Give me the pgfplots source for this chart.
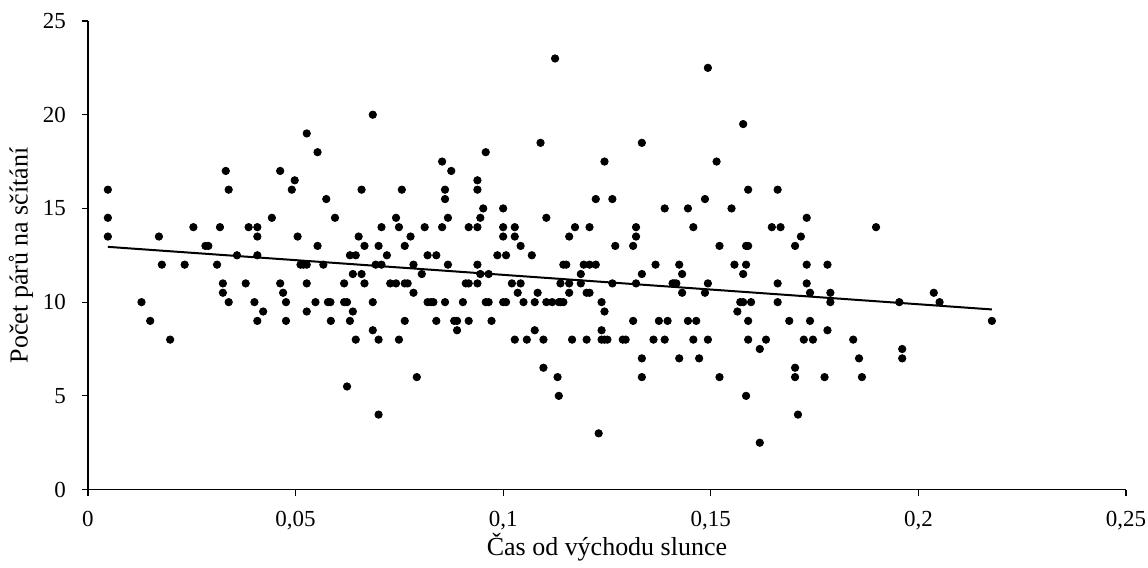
\documentclass[border=0pt]{standalone}
\usepackage{fontspec}
\setmainfont{Liberation Serif}
\usepackage{pgfplots}
\pgfplotsset{compat=1.18}
\usepackage{pgfplotstable}

\pgfplotstableread{
x y
0.0048 16
0.0048 14.5
0.0048 13.5
0.0129 10
0.0150 9
0.0171 13.5
0.0178 12
0.0198 8
0.0233 12
0.0254 14
0.0283 13
0.0290 13
0.0311 12
0.0318 14
0.0325 11
0.0325 10.5
0.0332 17
0.0339 16
0.0339 10
0.0359 12.5
0.0380 11
0.0387 14
0.0401 10
0.0408 14
0.0408 13.5
0.0408 12.5
0.0408 9
0.0422 9.5
0.0443 14.5
0.0463 17
0.0463 11
0.0470 10.5
0.0477 10
0.0477 9
0.0491 16
0.0498 16.5
0.0505 13.5
0.0512 12
0.0519 12
0.0527 19
0.0527 12
0.0527 11
0.0527 9.5
0.0548 10
0.0553 18
0.0553 13
0.0567 12
0.0574 15.5
0.0578 10
0.0584 10
0.0585 9
0.0595 14.5
0.0617 11
0.0617 10
0.0624 5.5
0.0624 10
0.0631 12.5
0.0631 9
0.0638 11.5
0.0638 9.5
0.0645 12.5
0.0645 8
0.0652 13.5
0.0659 16
0.0659 11.5
0.0666 13
0.0666 11
0.0686 20
0.0686 10
0.0686 8.5
0.0693 12
0.0700 13
0.0700 8
0.0700 4
0.0707 14
0.0707 12
0.0720 12.5
0.0728 11
0.0742 14.5
0.0742 11
0.0749 14
0.0749 8
0.0756 16
0.0763 13
0.0763 11
0.0763 9
0.0770 11
0.0777 13.5
0.0784 12
0.0784 10.5
0.0792 6
0.0804 11.5
0.0811 14
0.0818 12.5
0.0818 10
0.0826 10
0.0832 10
0.0839 12.5
0.0839 9
0.0853 17.5
0.0853 14
0.0860 16
0.0860 15.5
0.0860 10
0.0867 14.5
0.0867 12
0.0875 17
0.0882 9
0.0889 9
0.0889 8.5
0.0903 10
0.0910 11
0.0917 14
0.0917 11
0.0917 9
0.0938 16.5
0.0938 16
0.0938 14
0.0938 12
0.0938 11
0.0945 14.5
0.0945 11.5
0.0952 15
0.0958 18
0.0958 10
0.0965 11.5
0.0965 10
0.0972 9
0.0986 12.5
0.1000 15
0.1000 14
0.1000 13.5
0.1000 10
0.1007 12.5
0.1007 10
0.1021 11
0.1028 14
0.1028 13.5
0.1028 8
0.1035 10.5
0.1042 13
0.1042 11
0.1049 10
0.1057 8
0.1069 12.5
0.1076 10
0.1076 8.5
0.1083 10.5
0.1090 18.5
0.1097 8
0.1097 6.5
0.1104 14.5
0.1104 10
0.1118 10
0.1125 23
0.1131 6
0.1134 10
0.1134 5
0.1138 11
0.1138 10
0.1145 10
0.1145 12
0.1152 12
0.1159 13.5
0.1159 11
0.1159 10.5
0.1166 8
0.1173 14
0.1187 11.5
0.1187 11
0.1194 12
0.1201 10.5
0.1201 8
0.1208 14
0.1208 12
0.1208 10.5
0.1223 15.5
0.1223 12
0.1230 3
0.1237 10
0.1237 8.5
0.1237 8
0.1244 17.5
0.1244 9.5
0.1244 8
0.1251 8
0.1263 15.5
0.1263 11
0.1270 13
0.1288 8
0.1295 8
0.1313 13
0.1313 9
0.1320 14
0.1320 13.5
0.1320 11
0.1334 18.5
0.1334 11.5
0.1334 7
0.1334 6
0.1362 8
0.1367 12
0.1375 9
0.1389 15
0.1389 8
0.1396 9
0.1408 11
0.1412 11
0.1417 11
0.1424 12
0.1424 7
0.1431 11.5
0.1431 10.5
0.1445 15
0.1445 9
0.1458 14
0.1458 8
0.1465 9
0.1472 7
0.1486 15.5
0.1486 10.5
0.1493 22.5
0.1493 11
0.1493 8
0.1514 17.5
0.1521 13
0.1521 6
0.1550 15
0.1557 12
0.1564 9.5
0.1571 10
0.1578 19.5
0.1578 11.5
0.1578 10
0.1585 13
0.1585 12
0.1585 5
0.1590 16
0.1590 13
0.1590 9
0.1590 8
0.1597 10
0.1618 2.5
0.1618 7.5
0.1633 8
0.1647 14
0.1661 16
0.1661 11
0.1661 10
0.1668 14
0.1689 9
0.1703 13
0.1703 6.5
0.1703 6
0.1710 4
0.1717 13.5
0.1724 8
0.1731 14.5
0.1731 12
0.1731 11
0.1739 10.5
0.1739 9
0.1746 8
0.1774 6
0.1781 12
0.1781 8.5
0.1788 10.5
0.1788 10
0.1843 8
0.1857 7
0.1864 6
0.1898 14
0.1954 10
0.1961 7
0.1961 7.5
0.2037 10.5
0.2051 10
0.2177 9
}\pts

\begin{document}
\begin{tikzpicture}
\begin{axis}[
  scale only axis,
  width=519.5pt, height=234.5pt,
  xmin=0, xmax=0.25, ymin=0, ymax=25,
  axis lines=left,
  axis line style={-, line width=0.6pt},
  tick align=outside,
  major tick length=3pt,
  tick style={line width=0.6pt, black},
  xtick={0,0.05,0.1,0.15,0.2,0.25},
  xticklabels={0,{0,05},{0,1},{0,15},{0,2},{0,25}},
  ytick={0,5,10,15,20,25},
  yticklabels={0,5,10,15,20,25},
  ticklabel style={font=\fontsize{11.5}{13}\selectfont},
  xticklabel style={yshift=-4.5pt},
  yticklabel style={xshift=-4.5pt},
  label style={font=\fontsize{13}{15}\selectfont},
  xlabel={Čas od východu slunce},
  ylabel={Počet párů na sčítání},
  xlabel style={at={(axis description cs:0.5,-0.1237)}, anchor=center},
  ylabel style={at={(axis description cs:-0.0645,0.5)}, anchor=center},
  clip=false,
]
\addplot[only marks, mark=*, mark size=1.85pt, black] table[x=x,y=y] {\pts};
\addplot[black, line width=1pt] coordinates {(0.0048,12.95) (0.2177,9.61)};
\end{axis}
\pgfresetboundingbox
\path ([shift={(-44pt,-39pt)}]current axis.south west) rectangle ([shift={(11pt,10.5pt)}]current axis.north east);
\end{tikzpicture}
\end{document}
